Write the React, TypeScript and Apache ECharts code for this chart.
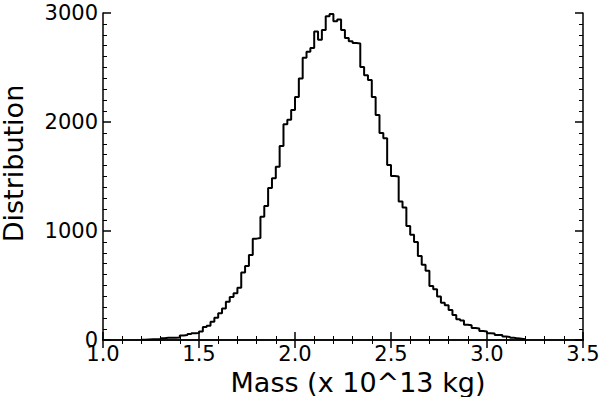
import React, { useEffect, useRef } from "react";
import * as echarts from "echarts";

// Left edges of histogram bins (x 10^13 kg)
const binEdges = [
  1.20, 1.22, 1.24, 1.26, 1.28, 1.30, 1.32, 1.34, 1.36, 1.38,
  1.40, 1.42, 1.44, 1.46, 1.48, 1.50, 1.52, 1.54, 1.56, 1.58,
  1.60, 1.62, 1.64, 1.66, 1.68, 1.70, 1.72, 1.74, 1.76, 1.78,
  1.80, 1.82, 1.84, 1.86, 1.88, 1.90, 1.92, 1.94, 1.96, 1.98,
  2.00, 2.02, 2.04, 2.06, 2.08, 2.10, 2.12, 2.14, 2.16, 2.18,
  2.20, 2.22, 2.24, 2.26, 2.28, 2.30, 2.32, 2.34, 2.36, 2.38,
  2.40, 2.42, 2.44, 2.46, 2.48, 2.50, 2.52, 2.54, 2.56, 2.58,
  2.60, 2.62, 2.64, 2.66, 2.68, 2.70, 2.72, 2.74, 2.76, 2.78,
  2.80, 2.82, 2.84, 2.86, 2.88, 2.90, 2.92, 2.94, 2.96, 2.98,
  3.00, 3.02, 3.04, 3.06, 3.08, 3.10, 3.12, 3.14, 3.16, 3.18,
  3.20,
];

// Counts per bin (last entry closes the histogram)
const counts = [
  2, 5, 6, 6, 8, 17, 20, 20, 21, 22,
  42, 45, 55, 62, 65, 78, 120, 130, 168, 205,
  245, 290, 350, 395, 430, 480, 620, 680, 780, 930,
  935, 1130, 1230, 1395, 1485, 1590, 1780, 1980, 2020, 2110,
  2230, 2400, 2590, 2645, 2680, 2830, 2755, 2845, 2970, 2990,
  2925, 2940, 2845, 2770, 2740, 2725, 2720, 2505, 2430, 2385,
  2230, 2065, 1900, 1850, 1605, 1505, 1500, 1270, 1215, 1045,
  965, 900, 770, 690, 636, 495, 465, 398, 342, 318,
  275, 229, 190, 180, 140, 135, 110, 105, 82, 78,
  62, 60, 47, 45, 32, 28, 21, 15, 12, 6,
  0,
];

const xTicks = [1.0, 1.5, 2.0, 2.5, 3.0, 3.5];
const yTicks = [0, 1000, 2000, 3000];

const FONT = "DejaVu Sans";

export default function App() {
  const ref = useRef<HTMLDivElement>(null);
  useEffect(() => {
    if (!ref.current) return;
    const chart = echarts.init(ref.current, null, { renderer: "svg" });
    const axisLineStyle = { show: true, lineStyle: { color: "#000", width: 1.5 } };
    const tickStyle = { show: true, inside: true, length: 8, lineStyle: { color: "#000", width: 1.5 } };
    const minorTickX = { show: true, splitNumber: 5, length: 4, lineStyle: { color: "#000", width: 1 } };
    const minorTickY = { show: true, splitNumber: 10, length: 4, lineStyle: { color: "#000", width: 1 } };
    const xMin = xTicks[0];
    const xMax = xTicks[xTicks.length - 1];
    const yMin = yTicks[0];
    const yMax = yTicks[yTicks.length - 1];
    chart.setOption({
      animation: false,
      backgroundColor: "#fff",
      grid: { left: 103, right: 17, top: 13, bottom: 57, containLabel: false, outerBoundsMode: "none" },
      xAxis: [
        {
          type: "value",
          min: xMin,
          max: xMax,
          interval: 0.5,
          position: "bottom",
          name: "Mass (x 10^13 kg)",
          nameLocation: "middle",
          nameGap: 29,
          nameTextStyle: {
            fontFamily: FONT,
            fontSize: 27,
            color: "#000",
            lineHeight: 26,
            padding: [0, 0, 0, 30],
          },
          axisLine: axisLineStyle,
          axisTick: tickStyle,
          minorTick: minorTickX,
          splitLine: { show: false },
          axisLabel: {
            fontFamily: FONT,
            fontSize: 21,
            color: "#000",
            margin: 7,
            lineHeight: 14,
            formatter: (v: number) => v.toFixed(1),
          },
        },
        {
          type: "value",
          min: xMin,
          max: xMax,
          interval: 0.5,
          position: "top",
          axisLine: axisLineStyle,
          axisTick: tickStyle,
          minorTick: minorTickX,
          splitLine: { show: false },
          axisLabel: { show: false },
        },
      ],
      yAxis: [
        {
          type: "value",
          min: yMin,
          max: yMax,
          interval: 1000,
          position: "left",
          name: "Distribution",
          nameLocation: "middle",
          nameGap: 80,
          nameTextStyle: {
            fontFamily: FONT,
            fontSize: 27,
            color: "#000",
            lineHeight: 20,
            padding: [0, 0, 0, 26],
          },
          axisLine: axisLineStyle,
          axisTick: tickStyle,
          minorTick: minorTickY,
          splitLine: { show: false },
          axisLabel: {
            fontFamily: FONT,
            fontSize: 21,
            color: "#000",
            margin: 5,
            lineHeight: 14,
            formatter: (v: number) => String(v),
          },
        },
        {
          type: "value",
          min: yMin,
          max: yMax,
          interval: 1000,
          position: "right",
          axisLine: axisLineStyle,
          axisTick: tickStyle,
          minorTick: minorTickY,
          splitLine: { show: false },
          axisLabel: { show: false },
        },
      ],
      series: [
        {
          type: "line",
          step: "end",
          xAxisIndex: 0,
          yAxisIndex: 0,
          showSymbol: false,
          symbol: "none",
          lineStyle: { color: "#000", width: 2 },
          data: binEdges.map((e, i) => [e, counts[i]]),
        },
      ],
    });
    return () => chart.dispose();
  }, []);
  return <div ref={ref} style={{ width: 600, height: 397, position: "absolute", left: 0, top: 0 }} />;
}
